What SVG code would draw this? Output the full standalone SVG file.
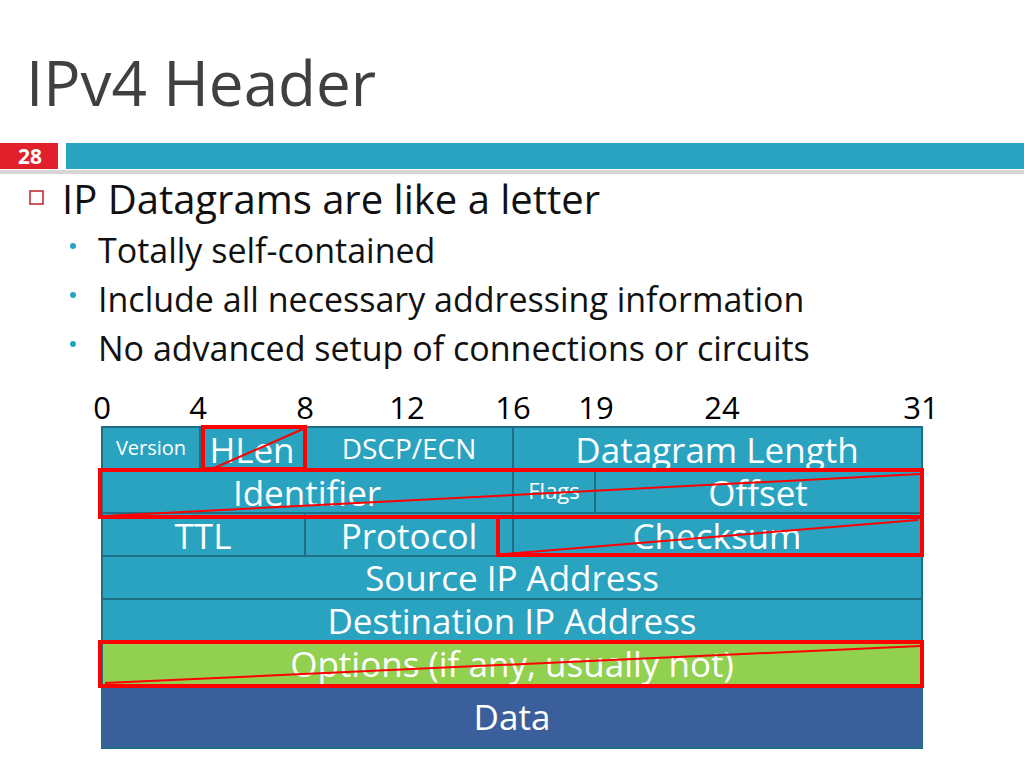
<svg xmlns="http://www.w3.org/2000/svg" width="1024" height="768" viewBox="0 0 1024 768">
<style>
text{font-family:"Open Sans","Noto Sans",sans-serif}
.c{fill:#2aa3c1;stroke:#1e6f86;stroke-width:2}
.t{fill:#fff;text-anchor:middle;font-size:35px}
.r{fill:none;stroke:#f00;stroke-width:4}
.d{stroke:#f00;stroke-width:2}
.n{font-size:31px;fill:#000;text-anchor:middle}
</style>
<rect width="1024" height="768" fill="#fff"/>
<text x="26" y="106" font-size="62" fill="#404040">IPv4 Header</text>
<rect x="0" y="143" width="58" height="26" fill="#e0202a"/>
<text x="30" y="164" font-size="21" font-weight="bold" fill="#fff" text-anchor="middle">28</text>
<rect x="66" y="143" width="958" height="26" fill="#2aa3c1"/>
<rect x="0" y="170" width="1024" height="4" fill="#999" opacity="0.4"/>
<rect x="30" y="191" width="13" height="13" fill="none" stroke="#c0202a" stroke-width="1.5"/>
<text x="62" y="214" font-size="40" fill="#111">IP Datagrams are like a letter</text>
<g font-size="34" fill="#111">
<circle cx="73" cy="246" r="3" fill="#2aa3c1"/><text x="98" y="263">Totally self-contained</text>
<circle cx="73" cy="295" r="3" fill="#2aa3c1"/><text x="98" y="312">Include all necessary addressing information</text>
<circle cx="73" cy="344" r="3" fill="#2aa3c1"/><text x="98" y="361">No advanced setup of connections or circuits</text>
</g>
<g>
<text class="n" x="102" y="419">0</text><text class="n" x="198" y="419">4</text><text class="n" x="305" y="419">8</text>
<text class="n" x="407" y="419">12</text><text class="n" x="513" y="419">16</text><text class="n" x="596" y="419">19</text>
<text class="n" x="722" y="419">24</text><text class="n" x="921" y="419">31</text>
</g>
<g id="version"><rect class="c" x="102" y="427" width="98" height="43"/><text class="t" x="151" y="455" style="font-size:20px">Version</text></g>
<g id="hlen"><rect class="c" x="200" y="427" width="105" height="43"/><text class="t" x="252" y="463">HLen</text></g>
<g id="dscp"><rect class="c" x="305" y="427" width="208" height="43"/><text class="t" x="409" y="459" style="font-size:28px">DSCP/ECN</text></g>
<g id="dlen"><rect class="c" x="513" y="427" width="409" height="43"/><text class="t" x="717" y="463">Datagram Length</text></g>
<g id="ident"><rect class="c" x="102" y="470" width="411" height="43"/><text class="t" x="307" y="506">Identifier</text></g>
<g id="flags"><rect class="c" x="513" y="470" width="82" height="43"/><text class="t" x="554" y="499" style="font-size:22px">Flags</text></g>
<g id="offset"><rect class="c" x="595" y="470" width="327" height="43"/><text class="t" x="758" y="506">Offset</text></g>
<g id="ttl"><rect class="c" x="102" y="513" width="203" height="43"/><text class="t" x="203" y="549">TTL</text></g>
<g id="proto"><rect class="c" x="305" y="513" width="208" height="43"/><text class="t" x="409" y="549">Protocol</text></g>
<g id="cksum"><rect class="c" x="513" y="513" width="409" height="43"/><text class="t" x="717" y="549">Checksum</text></g>
<g id="src"><rect class="c" x="102" y="556" width="820" height="43"/><text class="t" x="512" y="591">Source IP Address</text></g>
<g id="dst"><rect class="c" x="102" y="599" width="820" height="43"/><text class="t" x="512" y="634">Destination IP Address</text></g>
<g id="opts"><rect x="102" y="642" width="820" height="43" fill="#92d050" stroke="#1e6f86" stroke-width="2"/><text class="t" x="512" y="677">Options (if any, usually not)</text></g>
<g id="data"><rect x="102" y="685" width="820" height="63" fill="#3a5f9a" stroke="#1e6f86" stroke-width="2"/><text class="t" x="512" y="730">Data</text></g>
<g id="connectors">
<rect class="r" x="203" y="427" width="102" height="42"/><line class="d" x1="212" y1="469" x2="303" y2="429"/>
<rect class="r" x="100" y="470" width="822" height="47"/><line class="d" x1="105" y1="516" x2="920" y2="474"/>
<rect class="r" x="498" y="517" width="424" height="38"/><line class="d" x1="505" y1="554" x2="918" y2="520"/>
<rect class="r" x="100" y="642" width="822" height="44"/><line class="d" x1="105" y1="683" x2="920" y2="646"/>
</g>
</svg>
